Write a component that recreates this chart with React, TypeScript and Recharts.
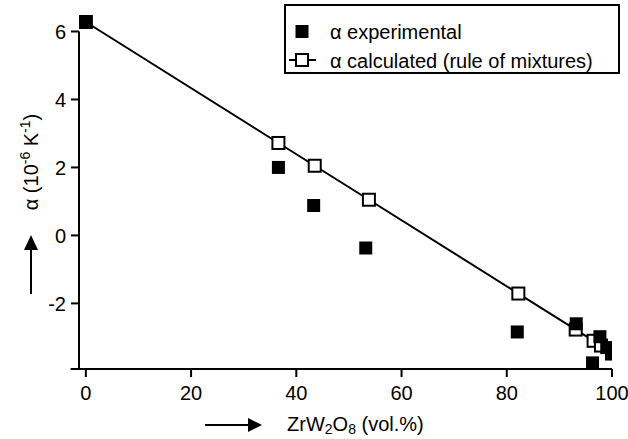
import React from 'react';
import { ScatterChart, Scatter, XAxis, YAxis, ReferenceLine } from 'recharts';

// ZrW2O8 volume fraction (vol.%) and thermal expansion coefficient (10^-6 K^-1)
const expX = [0, 36.6, 43.3, 53.2, 82.0, 93.2, 96.3, 97.7, 99.0, 99.9];
const expY = [6.28, 2.0, 0.88, -0.37, -2.84, -2.6, -3.75, -2.98, -3.3, -3.49];

const calcX = [0, 36.6, 43.5, 53.8, 82.2, 93.1, 96.5, 97.9, 100];
const calcY = [6.28, 2.72, 2.05, 1.05, -1.71, -2.77, -3.1, -3.24, -3.44];

const xTicks = [0, 20, 40, 60, 80, 100];
const yTicks = [-2, 0, 2, 4, 6];

const seriesNames = ['\u03b1 experimental', '\u03b1 calculated (rule of mixtures)'];

const expData = expX.map((x, i) => ({ x, y: expY[i] }));
const calcData = calcX.map((x, i) => ({ x, y: calcY[i] }));

const FONT = '"Liberation Sans", Arial, Helvetica, sans-serif';
const FS = 20;

const X_MIN = -1.3;
const Y_MIN = -3.93;
const Y_AXIS_TOP = 6;

const FilledSquare = (props: any) => {
  const { cx, cy } = props;
  if (cx == null || cy == null) return null;
  return <rect x={cx - 6.5} y={cy - 6.5} width={13} height={13} fill="#000" />;
};

const OpenSquare = (props: any) => {
  const { cx, cy } = props;
  if (cx == null || cy == null) return null;
  return <rect x={cx - 6} y={cy - 6} width={12} height={12} fill="#fff" stroke="#000" strokeWidth={2} />;
};

export default function App() {
  const W = 628;
  const H = 439;
  return (
    <div style={{ position: 'absolute', left: 0, top: 0, width: W, height: H, background: '#fff' }}>
      <ScatterChart width={W} height={H} margin={{ top: 14.5, right: 16, bottom: 40, left: 0 }}>
        <XAxis
          type="number"
          dataKey="x"
          domain={[X_MIN, 100]}
          ticks={xTicks}
          allowDataOverflow
          tickSize={8}
          tickMargin={9}
          height={30}
          axisLine={{ stroke: '#000', strokeWidth: 2 }}
          tickLine={{ stroke: '#000', strokeWidth: 2 }}
          tick={{ fill: '#000', fontSize: FS, fontFamily: FONT }}
        />
        <YAxis
          type="number"
          dataKey="y"
          domain={[Y_MIN, 6.5]}
          ticks={yTicks}
          allowDataOverflow
          width={79}
          tickSize={8}
          tickMargin={5}
          axisLine={false}
          tickLine={{ stroke: '#000', strokeWidth: 2 }}
          tick={{ fill: '#000', fontSize: FS, fontFamily: FONT }}
        />
        <ReferenceLine
          segment={[{ x: X_MIN, y: Y_MIN }, { x: X_MIN, y: Y_AXIS_TOP }]}
          ifOverflow="visible"
          stroke="#000"
          strokeWidth={2}
        />
        <ReferenceLine
          segment={[{ x: -2.9, y: Y_MIN }, { x: X_MIN, y: Y_MIN }]}
          ifOverflow="visible"
          stroke="#000"
          strokeWidth={2}
        />
        <Scatter
          name={seriesNames[1]}
          data={calcData}
          line={{ stroke: '#000', strokeWidth: 2 }}
          lineType="joint"
          shape={OpenSquare}
          isAnimationActive={false}
        />
        <Scatter
          name={seriesNames[0]}
          data={expData}
          shape={FilledSquare}
          isAnimationActive={false}
        />
      </ScatterChart>
      <svg
        width={W}
        height={H}
        style={{ position: 'absolute', left: 0, top: 0, pointerEvents: 'none' }}
        fontFamily={FONT}
      >
        {/* Legend */}
        <rect x={285} y={5} width={334} height={68} fill="#fff" stroke="#000" strokeWidth={2} />
        <rect x={295.5} y={25} width={13} height={13} fill="#000" />
        <text x={330} y={38.5} fontSize={FS} fill="#000">{seriesNames[0]}</text>
        <line x1={289} y1={60} x2={316} y2={60} stroke="#000" strokeWidth={2} />
        <rect x={296} y={54} width={12} height={12} fill="#fff" stroke="#000" strokeWidth={2} />
        <text x={330} y={67.5} fontSize={FS} fill="#000">{seriesNames[1]}</text>

        {/* Y axis title with arrow */}
        <text
          transform="translate(38,162) rotate(-90)"
          textAnchor="middle"
          fontSize={FS}
          fill="#000"
        >
          {'\u03b1 (10'}
          <tspan fontSize={14} dy={-8}>-6</tspan>
          <tspan dy={8}>{' K'}</tspan>
          <tspan fontSize={14} dy={-8}>-1</tspan>
          <tspan dy={8}>)</tspan>
        </text>
        <line x1={31} y1={294} x2={31} y2={248} stroke="#000" strokeWidth={2} />
        <polygon points="24,250 38,250 31,235" fill="#000" />

        {/* X axis title with arrow */}
        <line x1={205} y1={425} x2={250} y2={425} stroke="#000" strokeWidth={2} />
        <polygon points="248,418 248,432 262,425" fill="#000" />
        <text x={287} y={431} fontSize={FS} fill="#000">
          {'ZrW'}
          <tspan fontSize={14} dy={3}>2</tspan>
          <tspan dy={-3}>O</tspan>
          <tspan fontSize={14} dy={3}>8</tspan>
          <tspan dy={-3}>{' (vol.%)'}</tspan>
        </text>
      </svg>
    </div>
  );
}
